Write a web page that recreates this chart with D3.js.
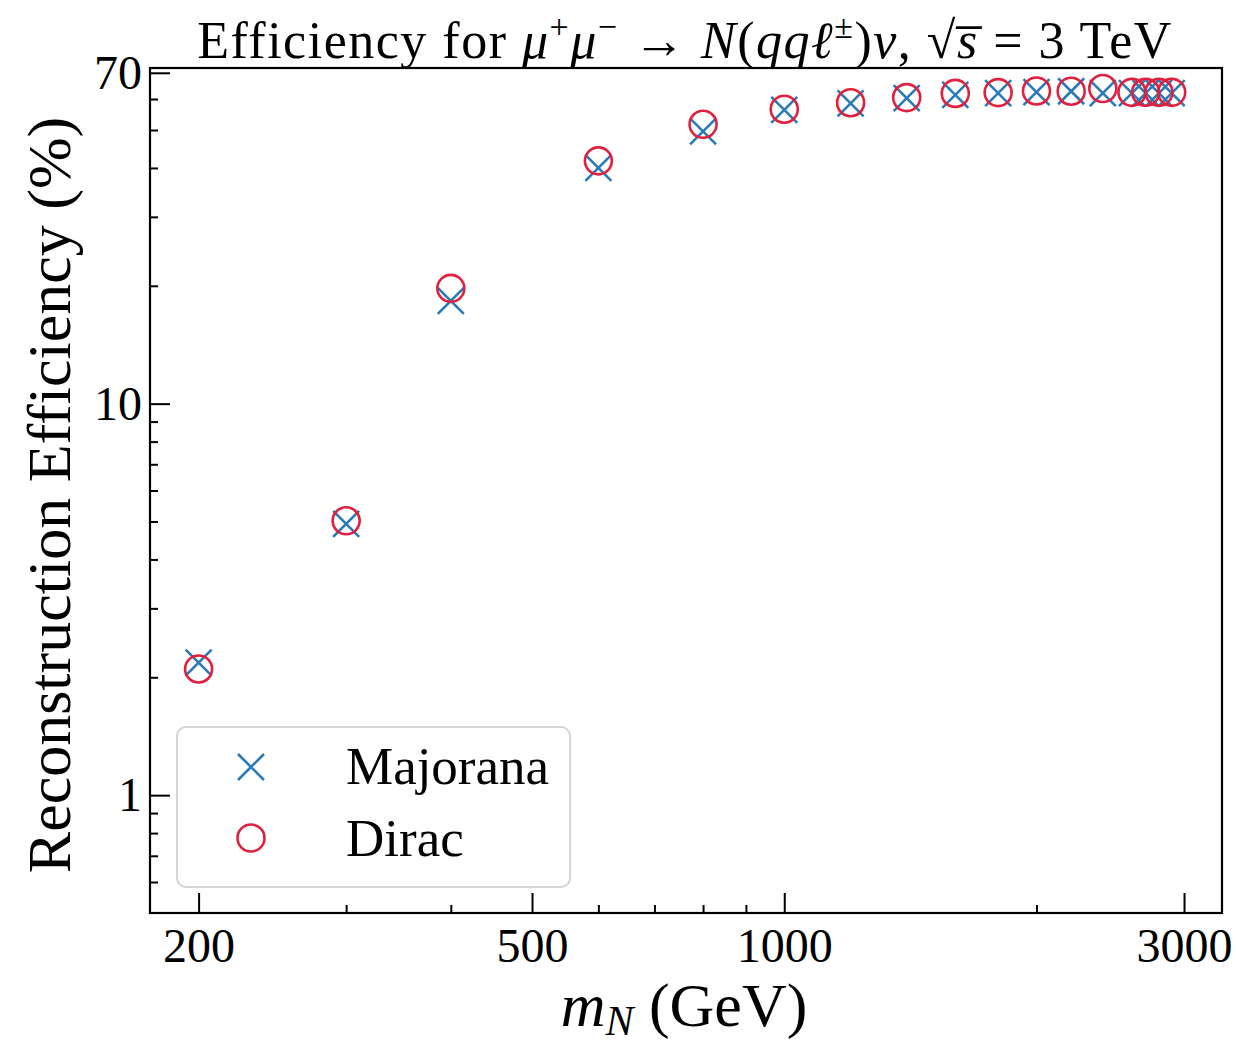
<!DOCTYPE html>
<html><head><meta charset="utf-8">
<script src="https://cdn.jsdelivr.net/npm/d3@7"></script>
<style>
body{margin:0;background:#fff;}
text{font-family:"Liberation Serif","DejaVu Serif",serif;fill:#000;}
</style></head>
<body><svg id="chart" width="1236" height="1044"></svg>
<script>
const masses = [200,300,400,600,800,1000,1200,1400,1600,1800,2000,2200,2400,2600,2700,2800,2900];
const majorana = [2.18,4.93,18.3,40.0,49.6,56.3,58.5,60.3,61.5,62.1,62.5,62.8,62.1,62.1,62.1,62.1,62.1];
const dirac    = [2.10,5.02,19.7,41.7,51.7,56.5,58.7,60.5,62.0,62.3,62.9,62.8,63.8,62.4,62.4,62.4,62.4];
const xMajorTicks = [200,500,1000,3000];
const xMinorTicks = [300,400,600,700,800,900,2000];
const yMajorTicks = [1,10,70];
const yMinorTicks = [0.6,0.7,0.8,0.9,2,3,4,5,6,7,8,9,20,30,40,50,60];
const seriesNames = ["Majorana","Dirac"];

const svg = d3.select("#chart");
const L=150, R=1222, T=68, B=913;
const x = d3.scaleLog().domain([175,3330]).range([L,R]);
const y = d3.scaleLog().domain([0.5,72]).range([B,T]);
const blue="#2a7ab8", red="#e0203f";

// axes
const fmt = d => String(d);
const gx = svg.append("g").attr("transform",`translate(0,${B})`);
gx.call(d3.axisBottom(x).tickValues(xMajorTicks).tickFormat(fmt).tickSizeInner(-20).tickSizeOuter(0).tickPadding(8));
const gx2 = svg.append("g").attr("transform",`translate(0,${B})`);
gx2.call(d3.axisBottom(x).tickValues(xMinorTicks).tickFormat("").tickSizeInner(-8).tickSizeOuter(0));
const gy = svg.append("g").attr("transform",`translate(${L},0)`);
gy.call(d3.axisLeft(y).tickValues(yMajorTicks).tickFormat(fmt).tickSizeInner(-20).tickSizeOuter(0).tickPadding(8));
const gy2 = svg.append("g").attr("transform",`translate(${L},0)`);
gy2.call(d3.axisLeft(y).tickValues(yMinorTicks).tickFormat("").tickSizeInner(-8).tickSizeOuter(0));
[gx,gx2,gy,gy2].forEach(g=>{
  g.select(".domain").remove();
  g.selectAll(".tick line").attr("stroke","#000").attr("stroke-width",2);
  g.selectAll(".tick text").attr("font-size",48).attr("font-family",'"Liberation Serif",serif').attr("fill","#000");
});
gx.selectAll(".tick text").attr("dy","0.85em");

// frame
svg.append("rect").attr("x",L).attr("y",T).attr("width",R-L).attr("height",B-T)
  .attr("fill","none").attr("stroke","#000").attr("stroke-width",2.2);

// markers
const s=13;
const plot = svg.append("g");
plot.selectAll("path.maj").data(masses.map((m,i)=>[m,majorana[i]])).join("path")
  .attr("class","maj")
  .attr("d",d=>{const cx=x(d[0]),cy=y(d[1]);return `M${cx-s},${cy-s}L${cx+s},${cy+s}M${cx-s},${cy+s}L${cx+s},${cy-s}`;})
  .attr("stroke",blue).attr("stroke-width",2.6).attr("fill","none");
plot.selectAll("circle.dir").data(masses.map((m,i)=>[m,dirac[i]])).join("circle")
  .attr("class","dir")
  .attr("cx",d=>x(d[0])).attr("cy",d=>y(d[1])).attr("r",13.5)
  .attr("stroke",red).attr("stroke-width",2.6).attr("fill","none");

// legend
const lg = svg.append("g");
lg.append("rect").attr("x",177).attr("y",727).attr("width",393).attr("height",160).attr("rx",9)
  .attr("fill","#fff").attr("fill-opacity",0.85).attr("stroke","#d4d4d4").attr("stroke-width",2);
const lx=251, ly1=767, ly2=838;
lg.append("path").attr("d",`M${lx-13},${ly1-13}L${lx+13},${ly1+13}M${lx-13},${ly1+13}L${lx+13},${ly1-13}`)
  .attr("stroke",blue).attr("stroke-width",2.6);
lg.append("circle").attr("cx",lx).attr("cy",ly2).attr("r",13.5).attr("fill","none").attr("stroke",red).attr("stroke-width",2.6);
lg.append("text").attr("x",346).attr("y",ly1+17).attr("font-size",53).text(seriesNames[0]);
lg.append("text").attr("x",346).attr("y",ly2+18).attr("font-size",53).text(seriesNames[1]);

// title
const tb = 58;
const t = svg.append("text").attr("x",685).attr("y",tb).attr("text-anchor","middle").attr("font-size",52).attr("letter-spacing",1.5);
function tp(txt, opts={}) {
  const e = t.append("tspan").text(txt);
  if (opts.it) e.attr("font-style","italic");
  if (opts.fs) e.attr("font-size",opts.fs);
  if (opts.dy) e.attr("dy",opts.dy);
  return e;
}
tp("Efficiency for ");
tp("μ",{it:1});
tp("+",{fs:34,dy:-20});
tp("μ",{it:1,dy:20});
tp("−",{fs:34,dy:-20});
tp(" → ",{dy:20});
tp("N",{it:1});
tp("(");
tp("qqℓ",{it:1});
tp("±",{fs:34,dy:-20});
tp(")",{dy:20});
tp("ν",{it:1});
tp(", √");
tp("s\u0305",{it:1});
tp(" = 3 TeV");

// y label
svg.append("text").attr("transform","translate(70,495) rotate(-90)").attr("text-anchor","middle")
  .attr("font-size",62).text("Reconstruction Efficiency (%)");

// x label
const xl = svg.append("text").attr("x",684).attr("y",1026).attr("text-anchor","middle").attr("font-size",62);
xl.append("tspan").attr("font-style","italic").text("m");
xl.append("tspan").attr("font-style","italic").attr("font-size",42).attr("dy",9).text("N");
xl.append("tspan").attr("dy",-9).text(" (GeV)");
</script></body></html>
